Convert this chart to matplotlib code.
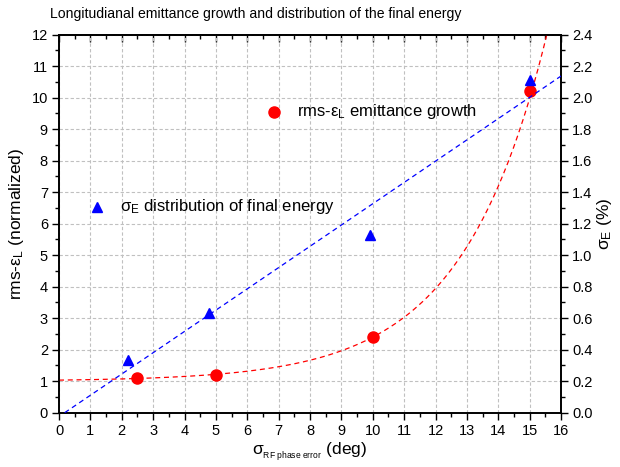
import numpy as np
import matplotlib
matplotlib.use("Agg")
import matplotlib.pyplot as plt
from matplotlib.ticker import MultipleLocator, FormatStrFormatter, NullFormatter

plt.rcParams['font.family'] = ['Liberation Sans', 'DejaVu Sans']
plt.rcParams['mathtext.fontset'] = 'custom'
plt.rcParams['mathtext.rm'] = 'Liberation Sans'
plt.rcParams['mathtext.it'] = 'Liberation Sans:italic'

# data
phase_err = [2.5, 5.0, 10.0, 15.0]           # deg
emit_growth = [1.1, 1.21, 2.4, 10.2]          # rms-eps_L (normalized)
phase_err_e = [2.2, 4.78, 9.9, 15.0]          # deg
sigma_e = [0.335, 0.635, 1.13, 2.11]          # %

# exponential fit y = y0 + A*exp(x/t), parameters estimated from the red dashed curve
exp_y0, exp_A, exp_t = 1.0, 0.034, 2.69


def sub(s, tiny=False):
    s = s.replace(' ', '\\ ')
    if tiny:
        # extra small, lowered subscript
        return '$_{{}_{\\mathregular{' + s + '}}}$'
    return '$_{\\mathregular{' + s + '}}$'


fig = plt.figure(figsize=(6.2, 4.67), dpi=100)
ax = fig.add_axes([0.0952, 0.1163, 0.8097, 0.8094])
ax2 = ax.twinx()

# red: emittance growth + exponential fit
xf = np.linspace(0, 16, 400)
yf = exp_y0 + exp_A * np.exp(xf / exp_t)
ax.plot(xf, yf, ls=(0, (4, 3)), color='red', lw=0.9, zorder=3)
ax.plot(phase_err, emit_growth, 'o', color='red', ms=8, zorder=4)

# blue: energy spread + linear fit
slope, icpt = np.polyfit(phase_err_e, sigma_e, 1)
x0 = -icpt / slope
xl = np.linspace(x0, 16, 50)
ax2.plot(xl, slope * xl + icpt, ls=(0, (4, 3)), color='blue', lw=0.9, zorder=3)
ax2.plot(phase_err_e, sigma_e, '^', color='blue', ms=7, zorder=4)

ax.set_xlim(0, 16)
ax.set_ylim(0, 12)
ax2.set_ylim(0, 2.4)

ax.xaxis.set_major_locator(MultipleLocator(1))
ax.xaxis.set_minor_locator(MultipleLocator(0.5))
ax.yaxis.set_major_locator(MultipleLocator(1))
ax.yaxis.set_minor_locator(MultipleLocator(0.5))
ax2.yaxis.set_major_locator(MultipleLocator(0.2))
ax2.yaxis.set_minor_locator(MultipleLocator(0.1))
ax2.yaxis.set_major_formatter(FormatStrFormatter('%.1f'))

ax.grid(True, which='major', ls=(0, (3, 2)), color='#c0c0c0', lw=0.8)
ax.set_axisbelow(True)

ax.tick_params(axis='both', which='major', direction='out', length=5, width=1,
               labelsize=10.5, pad=3)
ax.tick_params(axis='both', which='minor', direction='out', length=3, width=1)
ax2.tick_params(axis='y', which='major', direction='out', length=5, width=1,
                labelsize=10.5, pad=3)
ax2.tick_params(axis='y', which='minor', direction='out', length=3, width=1)

# top axis: ticks pointing inward, no labels
top = ax.secondary_xaxis('top')
top.xaxis.set_major_locator(MultipleLocator(1))
top.xaxis.set_minor_locator(MultipleLocator(0.5))
top.xaxis.set_major_formatter(NullFormatter())
top.tick_params(which='major', direction='in', length=5, width=1)
top.tick_params(which='minor', direction='in', length=3, width=1)

for a in (ax, ax2, top):
    for s in a.spines.values():
        s.set_linewidth(1.2)

ax.set_xlabel('σ' + sub('RF phase error', tiny=True) + ' (deg)', fontsize=12.5, labelpad=2)
ax.set_ylabel('rms-ε' + sub('L') + ' (normalized)', fontsize=12.5, labelpad=4)
ax2.set_ylabel('σ' + sub('E') + ' (%)', fontsize=12.5, labelpad=2)

fig.text(0.413, 0.969,
         'Longitudianal emittance growth and distribution of the final energy',
         fontsize=10.1, ha='center', va='center')

# in-plot legend entries
ax.plot([6.85], [9.55], 'o', color='red', ms=8)
ax.text(7.6, 9.55, 'rms-ε' + sub('L') + ' emittance growth', fontsize=12, va='center')
ax.plot([1.21], [6.53], '^', color='blue', ms=7)
ax.text(1.94, 6.53, 'σ' + sub('E') + ' distribution of final energy', fontsize=12, va='center')

fig.savefig('out.png', dpi=100)
